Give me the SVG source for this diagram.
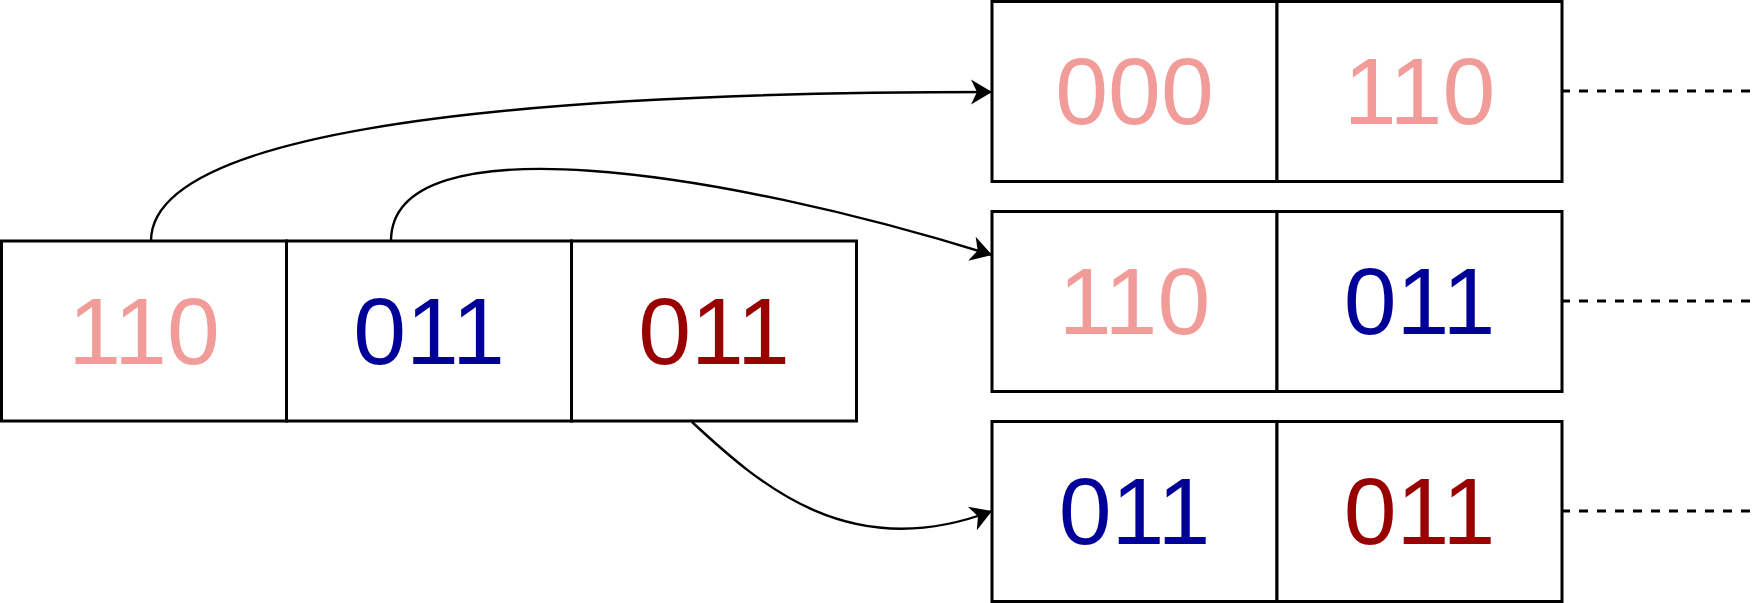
<svg xmlns="http://www.w3.org/2000/svg" width="1761" height="603" viewBox="0 0 1761 603">
  <style>
    .cell { fill: #ffffff; stroke: #000000; stroke-width: 3; }
    .lbl { font-family: 'Liberation Sans', Arial, Helvetica, sans-serif; font-size: 95px; text-anchor: middle; }
    .pink { fill: #F19C99; }
    .blue { fill: #000099; }
    .red { fill: #990000; }
    .edge { fill: none; stroke: #000000; stroke-width: 2.4; }
    .dash { fill: none; stroke: #000000; stroke-width: 3; stroke-dasharray: 9 9; }
  </style>
  <defs>
    <marker id="arrow" markerUnits="userSpaceOnUse" viewBox="-24 -15 26 30" markerWidth="26" markerHeight="30" refX="0" refY="0" orient="auto">
      <path d="M0,0 L-21,-12.5 L-15,0 L-21,12.5 Z" fill="#000000"/>
    </marker>
  </defs>
  <rect width="1761" height="603" fill="#ffffff"/>

  <g id="node-main">
    <rect class="cell" x="1.5" y="241" width="285" height="180"/>
    <rect class="cell" x="286.5" y="241" width="285" height="180"/>
    <rect class="cell" x="571.5" y="241" width="285" height="180"/>
    <text class="lbl pink" x="144" y="364">110</text>
    <text class="lbl blue" x="429" y="364">011</text>
    <text class="lbl red" x="714" y="364">011</text>
  </g>

  <g id="node-a">
    <rect class="cell" x="992" y="1.5" width="285" height="180"/>
    <rect class="cell" x="1277" y="1.5" width="285" height="180"/>
    <text class="lbl pink" x="1134.5" y="124">000</text>
    <text class="lbl pink" x="1419.5" y="124">110</text>
  </g>

  <g id="node-b">
    <rect class="cell" x="992" y="211.5" width="285" height="180"/>
    <rect class="cell" x="1277" y="211.5" width="285" height="180"/>
    <text class="lbl pink" x="1134.5" y="334">110</text>
    <text class="lbl blue" x="1419.5" y="334">011</text>
  </g>

  <g id="node-c">
    <rect class="cell" x="992" y="421.5" width="285" height="180"/>
    <rect class="cell" x="1277" y="421.5" width="285" height="180"/>
    <text class="lbl blue" x="1134.5" y="544">011</text>
    <text class="lbl red" x="1419.5" y="544">011</text>
  </g>

  <g id="connectors">
    <path class="edge" d="M151,241 C151,140 450,92 992,92" marker-end="url(#arrow)"/>
    <path class="edge" d="M391,241 C391,120 720,170 992,255" marker-end="url(#arrow)"/>
    <path class="edge" d="M692,422 C760,485 850,565 992,511" marker-end="url(#arrow)"/>
    <path class="dash" d="M1561,91 L1752,91"/>
    <path class="dash" d="M1561,301 L1752,301"/>
    <path class="dash" d="M1561,511 L1752,511"/>
  </g>
</svg>
